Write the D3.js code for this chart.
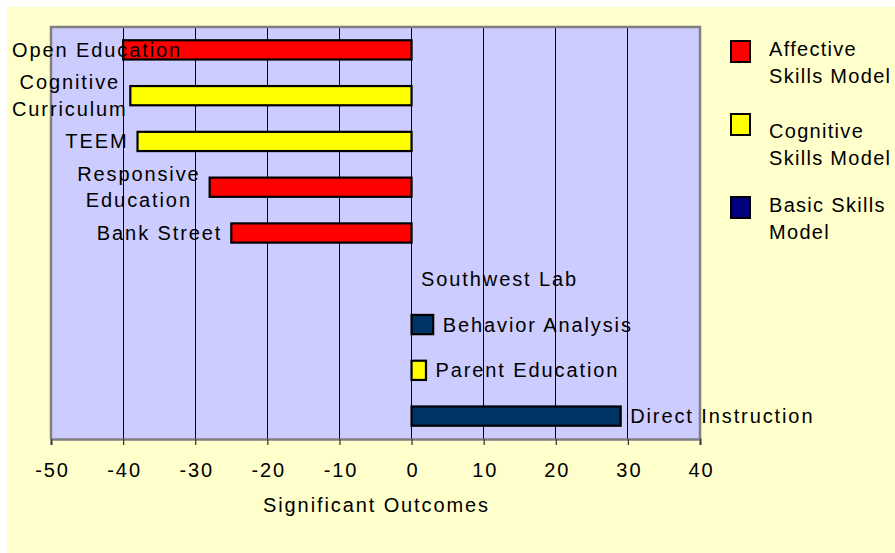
<!DOCTYPE html>
<html>
<head>
<meta charset="utf-8">
<script src="https://cdn.jsdelivr.net/npm/d3@7"></script>
<style>
  html, body { margin: 0; padding: 0; background: #ffffff; }
  svg { display: block; }
  text { font-family: "Liberation Sans", Arial, sans-serif; font-size: 20px; letter-spacing: 1.9px; fill: #000; }
</style>
</head>
<body>
<svg id="chart" width="895" height="553"></svg>
<script>
// ---- data ----
const categories = ["Open Education", "Cognitive Curriculum", "TEEM", "Responsive Education", "Bank Street",
                    "Southwest Lab", "Behavior Analysis", "Parent Education", "Direct Instruction"];
const labelLines = [["Open Education"], ["Cognitive", "Curriculum"], ["TEEM"], ["Responsive", "Education"], ["Bank Street"],
                    ["Southwest Lab"], ["Behavior Analysis"], ["Parent Education"], ["Direct Instruction"]];
const values = [-40, -39, -38, -28, -25, 0, 3, 2, 29];
const models = ["Affective", "Cognitive", "Cognitive", "Affective", "Affective", "Basic", "Basic", "Cognitive", "Basic"];
const legendNames = ["Affective", "Cognitive", "Basic"];
const legendLabels = [["Affective", "Skills Model"], ["Cognitive", "Skills Model"], ["Basic Skills", "Model"]];
const barColors = { Affective: "#ff0000", Cognitive: "#ffff00", Basic: "#003366" };
const legendColors = { Affective: "#ff0000", Cognitive: "#ffff00", Basic: "#000080" };
const xTicks = [-50, -40, -30, -20, -10, 0, 10, 20, 30, 40];
const xTitle = "Significant Outcomes";

// ---- layout ----
const svg = d3.select("#chart");
const plot = { left: 51, top: 27, right: 700, bottom: 439 };

svg.append("rect").attr("x", 7).attr("y", 7).attr("width", 895 - 7).attr("height", 553 - 7).attr("fill", "#ffffcc");

const x = d3.scaleLinear().domain([-50, 40]).range([plot.left, plot.right]);
const y = d3.scaleBand().domain(categories).range([plot.top, plot.bottom]).paddingInner(0.58).paddingOuter(0.29);

// plot background
svg.append("rect").attr("x", plot.left).attr("y", plot.top)
  .attr("width", plot.right - plot.left).attr("height", plot.bottom - plot.top)
  .attr("fill", "#ccccff");

// gridlines
svg.append("g").selectAll("line").data(xTicks.filter(t => t > -50 && t < 40)).join("line")
  .attr("x1", d => x(d)).attr("x2", d => x(d))
  .attr("y1", plot.top).attr("y2", plot.bottom)
  .attr("stroke", "#000").attr("stroke-width", 1).attr("shape-rendering", "crispEdges");

// plot border
svg.append("path")
  .attr("d", `M${plot.left},${plot.bottom} V${plot.top} H${plot.right} V${plot.bottom}`)
  .attr("fill", "none").attr("stroke", "#808080").attr("stroke-width", 2.5);

// x axis
const axis = svg.append("g").attr("transform", `translate(0,${plot.bottom})`)
  .call(d3.axisBottom(x).tickValues(xTicks).tickSize(6).tickPadding(22).tickFormat(d => String(d)));
axis.attr("font-size", null).attr("font-family", null);
axis.select(".domain").attr("stroke", "#808080").attr("stroke-width", 2.5);
axis.selectAll(".tick line").attr("stroke", "#333").attr("stroke-width", 1.2);
axis.selectAll(".tick text")
  .style("font-size", "20px").attr("fill", "#000").attr("dy", null).attr("y", 37.5)
  .attr("dx", "1px");

// axis title
svg.append("text").attr("x", (plot.left + plot.right) / 2 + 1).attr("y", 512)
  .attr("text-anchor", "middle").text(xTitle);

// bars
const rows = categories.map((c, i) => ({ c, v: values[i], m: models[i], lines: labelLines[i] }));
svg.append("g").selectAll("rect").data(rows.filter(d => d.v !== 0)).join("rect")
  .attr("x", d => x(Math.min(0, d.v)))
  .attr("width", d => Math.abs(x(d.v) - x(0)))
  .attr("y", d => y(d.c))
  .attr("height", y.bandwidth())
  .attr("fill", d => barColors[d.m])
  .attr("stroke", "#000").attr("stroke-width", 2.2);

// labels
const lineH = 26.5;
const labG = svg.append("g");
rows.forEach(d => {
  const cy = y(d.c) + y.bandwidth() / 2;
  const n = d.lines.length;
  const t = labG.append("text");
  d.lines.forEach((ln, k) => {
    t.append("tspan").attr("y", cy + 7 + (k - (n - 1) / 2) * lineH).text(ln);
  });
  if (d.v < 0) {
    let w = 0;
    t.selectAll("tspan").each(function () { w = Math.max(w, this.getComputedTextLength()); });
    const right = x(d.v) - 9;
    const left = Math.max(12, right - w);
    t.attr("text-anchor", "middle");
    t.selectAll("tspan").attr("x", left + w / 2);
  } else {
    t.attr("text-anchor", "start");
    t.selectAll("tspan").attr("x", x(d.v) + 9.5);
  }
});

// legend
const legY = [41, 114, 197];
const legTextY = [56, 138, 212];
const leg = svg.append("g");
legendNames.forEach((m, i) => {
  leg.append("rect").attr("x", 731).attr("y", legY[i]).attr("width", 19).attr("height", 21)
    .attr("fill", legendColors[m]).attr("stroke", "#000").attr("stroke-width", 2);
  const t = leg.append("text").style("letter-spacing", "1.3px");
  legendLabels[i].forEach((ln, k) => {
    t.append("tspan").attr("x", 769).attr("y", legTextY[i] + k * 27).text(ln);
  });
});
</script>
</body>
</html>
